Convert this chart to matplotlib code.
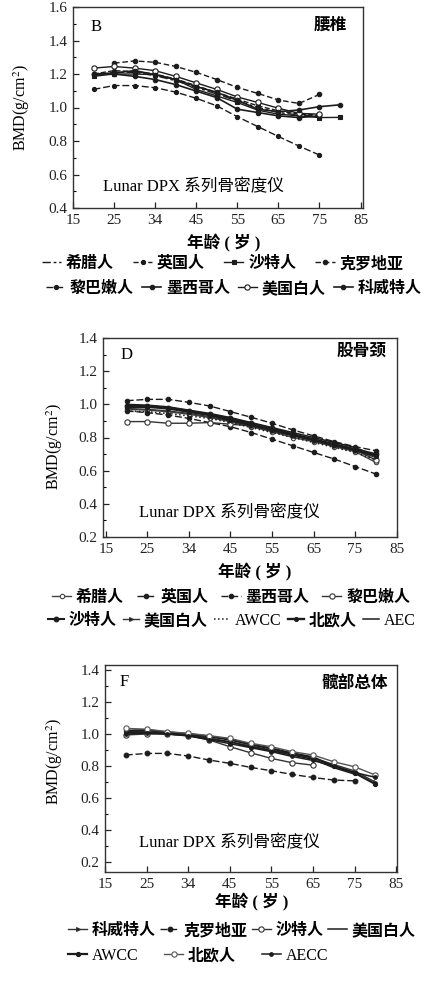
import matplotlib
matplotlib.use("Agg")
import matplotlib.pyplot as plt
from matplotlib.ticker import MultipleLocator, FixedLocator, FixedFormatter

plt.rcParams['font.family'] = ['Liberation Serif', 'Noto Sans CJK SC', 'DejaVu Sans']
plt.rcParams['mathtext.fontset'] = 'stix'

# ---------------- data ----------------
ages = [20, 25, 30, 35, 40, 45, 50, 55, 60, 65, 70, 75, 80]
xtick_pos = [15, 25, 35, 45, 55, 65, 75, 85]
xtick_labels = ['15', '25', '34', '45', '55', '65', '75', '85']

# Panel B: lumbar spine
names_B = ['希腊人', '英国人', '沙特人', '克罗地亚', '黎巴嫩人', '墨西哥人', '美国白人', '科威特人']
ages_B = {
    '希腊人': ages[:12], '英国人': ages[:12], '沙特人': ages, '克罗地亚': ages[1:12],
    '黎巴嫩人': ages[:12], '墨西哥人': ages[:12], '美国白人': ages[:12], '科威特人': ages,
}
bmd_B = {
    '希腊人':   [1.19, 1.21, 1.21, 1.19, 1.16, 1.12, 1.08, 1.04, 1.00, 0.97, 0.955, 0.95],
    '英国人':   [1.20, 1.22, 1.215, 1.20, 1.17, 1.13, 1.09, 1.05, 1.01, 0.98, 0.96, 0.955],
    '沙特人':   [1.186, 1.20, 1.20, 1.196, 1.167, 1.108, 1.069, 1.03, 0.984, 0.96, 0.95, 0.94, 0.941],
    '克罗地亚': [1.265, 1.278, 1.27, 1.245, 1.21, 1.167, 1.12, 1.084, 1.045, 1.024, 1.078],
    '黎巴嫩人': [1.108, 1.131, 1.131, 1.118, 1.092, 1.055, 1.01, 0.945, 0.886, 0.827, 0.77, 0.716],
    '墨西哥人': [1.20, 1.20, 1.186, 1.167, 1.137, 1.098, 1.059, 0.99, 0.97, 0.95, 0.94, 0.95],
    '美国白人': [1.235, 1.245, 1.235, 1.22, 1.186, 1.147, 1.108, 1.063, 1.03, 0.996, 0.965, 0.96],
    '科威特人': [1.20, 1.206, 1.22, 1.196, 1.167, 1.125, 1.09, 1.043, 0.99, 0.975, 0.985, 1.005, 1.016],
}

# Panel D: femoral neck
names_D = ['希腊人', '英国人', '墨西哥人', '黎巴嫩人', '沙特人', '美国白人', 'AWCC', '北欧人', 'AEC']
bmd_D = {
    '希腊人':   [0.97, 0.965, 0.955, 0.94, 0.92, 0.895, 0.865, 0.835, 0.80, 0.775, 0.745, 0.715, 0.65],
    '英国人':   [1.022, 1.03, 1.03, 1.012, 0.99, 0.956, 0.922, 0.886, 0.846, 0.81, 0.775, 0.745, 0.72],
    '墨西哥人': [0.96, 0.95, 0.935, 0.915, 0.89, 0.865, 0.83, 0.79, 0.75, 0.71, 0.67, 0.625, 0.58],
    '黎巴嫩人': [0.896, 0.896, 0.886, 0.886, 0.89, 0.88, 0.87, 0.846, 0.815, 0.785, 0.755, 0.725, 0.665],
    '沙特人':   [0.99, 0.99, 0.98, 0.96, 0.94, 0.915, 0.885, 0.855, 0.82, 0.79, 0.76, 0.73, 0.70],
    '美国白人': [0.975, 0.97, 0.96, 0.945, 0.925, 0.90, 0.87, 0.84, 0.81, 0.78, 0.75, 0.72, 0.68],
    'AWCC':     [0.96, 0.955, 0.945, 0.93, 0.915, 0.89, 0.86, 0.83, 0.80, 0.77, 0.74, 0.71, 0.665],
    '北欧人':   [0.985, 0.985, 0.975, 0.955, 0.935, 0.905, 0.875, 0.845, 0.815, 0.785, 0.755, 0.725, 0.69],
    'AEC':      [1.00, 0.995, 0.985, 0.965, 0.945, 0.92, 0.89, 0.86, 0.83, 0.80, 0.77, 0.74, 0.69],
}

# Panel F: total hip
names_F = ['科威特人', '克罗地亚', '沙特人', '美国白人', 'AWCC', '北欧人', 'AECC']
ages_F = {
    '科威特人': ages, '克罗地亚': ages[:12], '沙特人': ages[:10], '美国白人': ages[:12],
    'AWCC': ages, '北欧人': ages, 'AECC': ages,
}
bmd_F = {
    '科威特人': [1.015, 1.015, 1.005, 0.995, 0.975, 0.952, 0.925, 0.90, 0.875, 0.85, 0.81, 0.77, 0.70],
    '克罗地亚': [0.869, 0.879, 0.879, 0.863, 0.838, 0.817, 0.792, 0.771, 0.748, 0.729, 0.713, 0.708],
    '沙特人':   [0.994, 1.00, 1.00, 0.99, 0.963, 0.921, 0.883, 0.848, 0.821, 0.806],
    '美国白人': [1.01, 1.01, 1.00, 0.99, 0.97, 0.95, 0.92, 0.896, 0.869, 0.842, 0.79, 0.75],
    'AWCC':     [1.02, 1.025, 1.01, 1.00, 0.985, 0.965, 0.935, 0.91, 0.88, 0.855, 0.80, 0.758, 0.688],
    '北欧人':   [1.035, 1.03, 1.015, 1.004, 0.99, 0.973, 0.942, 0.921, 0.89, 0.869, 0.827, 0.796, 0.744],
    'AECC':     [1.00, 1.005, 1.00, 0.988, 0.965, 0.94, 0.915, 0.89, 0.86, 0.835, 0.80, 0.76, 0.73],
}

# ---------------- styles ----------------
C = '#1c1c1c'
def sty(ls='-', m='o', mfc=C, lw=1.0, ms=3.2, color=C):
    return dict(linestyle=ls, marker=m, mfc=mfc, lw=lw, ms=ms, color=color, mec=color, mew=0.8)

styles_B = {
    '希腊人': sty((0, (6, 2, 2, 2)), None),
    '英国人': sty('--', 'o', ms=3.0),
    '沙特人': sty('-', 's', ms=2.8),
    '克罗地亚': sty((0, (4, 2)), 'o', ms=3.2),
    '黎巴嫩人': sty((0, (5, 2)), 'o', ms=3.0),
    '墨西哥人': sty('-', 'o', ms=3.2, lw=1.2),
    '美国白人': sty('-', 'o', mfc='white', ms=3.8),
    '科威特人': sty('-', 'o', ms=3.2, lw=1.2),
}
styles_D = {
    '希腊人': sty('-', 'o', mfc='white', ms=3.2, color='#444444'),
    '英国人': sty((0, (5, 2)), 'o', ms=3.2),
    '墨西哥人': sty((0, (5, 2)), 'o', ms=3.2),
    '黎巴嫩人': sty('-', 'o', mfc='white', ms=3.8, color='#333333'),
    '沙特人': sty('-', 'o', ms=3.4, lw=1.5),
    '美国白人': sty('-', '>', ms=2.8, color='#333333'),
    'AWCC': sty(':', None, lw=1.1),
    '北欧人': sty('-', 'o', ms=2.8, lw=1.7),
    'AEC': sty('-', None, lw=1.1),
}
styles_F = {
    '科威特人': sty('-', '>', ms=2.8, color='#333333'),
    '克罗地亚': sty((0, (5, 2)), 'o', ms=3.4),
    '沙特人': sty('-', 'o', mfc='white', ms=3.8, color='#333333'),
    '美国白人': sty('-', None, lw=1.1),
    'AWCC': sty('-', 'o', ms=3.0, lw=1.6),
    '北欧人': sty('-', 'o', mfc='white', ms=3.8, color='#555555'),
    'AECC': sty('-', 'o', ms=2.6, lw=1.1),
}

W, H = 426, 981
fig = plt.figure(figsize=(W / 100, H / 100), dpi=100)

def px_axes(l, t, r, b):
    return fig.add_axes([l / W, 1 - b / H, (r - l) / W, (b - t) / H])

def style_axes(ax, xlim, ylim, ytick_vals):
    ax.set_xlim(*xlim)
    ax.set_ylim(*ylim)
    ax.xaxis.set_major_locator(FixedLocator(xtick_pos))
    ax.xaxis.set_major_formatter(FixedFormatter(xtick_labels))
    ax.yaxis.set_major_locator(FixedLocator(ytick_vals))
    ax.yaxis.set_major_formatter(FixedFormatter(['%.1f' % v for v in ytick_vals]))
    ax.yaxis.set_minor_locator(MultipleLocator(0.1))
    ax.tick_params(axis='both', which='major', direction='in', length=4, width=0.9,
                   labelsize=11, pad=4, colors='#222222')
    ax.tick_params(axis='y', which='minor', direction='in', length=2, width=0.8)
    for s in ax.spines.values():
        s.set_linewidth(1.0)
        s.set_color('#333333')

def draw(ax, names, agemap, data, styles):
    hs = {}
    for n in names:
        xs = agemap[n] if agemap else ages
        hs[n], = ax.plot(xs, data[n], label=n, **styles[n])
    return hs

def row_legend(handles, names, x, y, colsp=1.0, hl=1.2):
    lg = fig.legend([handles[n] for n in names], names, loc='center left',
                    bbox_to_anchor=(x / W, 1 - y / H), ncol=len(names), frameon=False,
                    handlelength=hl, handletextpad=0.3, columnspacing=colsp,
                    borderaxespad=0, borderpad=0,
                    prop={'family': ['Liberation Serif', 'Noto Sans CJK SC'], 'weight': 'bold', 'size': 11.5})
    for t in lg.get_texts():
        if t.get_text().isascii():
            t.set_fontweight('normal')
    return lg

txt_kw = dict(family=['Liberation Serif', 'Noto Sans CJK SC'])
inst = 'Lunar DPX 系列骨密度仪'
ylab = 'BMD(g/cm$^2$)'
xlab = '年龄 ( 岁 )'

# ---------- Panel B ----------
axB = px_axes(73, 7, 363, 208)
hB = draw(axB, names_B, ages_B, bmd_B, styles_B)
style_axes(axB, (15, 85.6), (0.4, 1.6), [0.4, 0.6, 0.8, 1.0, 1.2, 1.4, 1.6])
fig.text(96 / W, 1 - 27 / H, 'B', fontsize=12, ha='center', va='center', **txt_kw)
fig.text(330 / W, 1 - 26 / H, '腰椎', fontsize=12, weight='bold', ha='center', va='center', **txt_kw)
fig.text(193 / W, 1 - 187 / H, inst, fontsize=12, ha='center', va='center', **txt_kw)
fig.text(22 / W, 1 - 108 / H, ylab, rotation=90, fontsize=11.5, ha='center', va='center', **txt_kw)
fig.text(224 / W, 1 - 243 / H, xlab, fontsize=12, weight='bold', ha='center', va='center', **txt_kw)
row_legend(hB, names_B[:4], 42, 264, colsp=1.2)
row_legend(hB, names_B[4:], 46, 289, colsp=0.5)

# ---------- Panel D ----------
axD = px_axes(103, 338, 397, 537)
hD = draw(axD, names_D, None, bmd_D, styles_D)
style_axes(axD, (14.3, 85.1), (0.2, 1.4), [0.2, 0.4, 0.6, 0.8, 1.0, 1.2, 1.4])
fig.text(127 / W, 1 - 355 / H, 'D', fontsize=12, ha='center', va='center', **txt_kw)
fig.text(361 / W, 1 - 352 / H, '股骨颈', fontsize=12, weight='bold', ha='center', va='center', **txt_kw)
fig.text(229 / W, 1 - 513 / H, inst, fontsize=12, ha='center', va='center', **txt_kw)
fig.text(55 / W, 1 - 447 / H, ylab, rotation=90, fontsize=11.5, ha='center', va='center', **txt_kw)
fig.text(255 / W, 1 - 572 / H, xlab, fontsize=12, weight='bold', ha='center', va='center', **txt_kw)
row_legend(hD, names_D[:4], 52, 598, colsp=0.8)
row_legend(hD, names_D[4:], 48, 621, colsp=0.4, hl=1.0)

# ---------- Panel F ----------
axF = px_axes(105, 665, 397, 872)
hF = draw(axF, names_F, ages_F, bmd_F, styles_F)
style_axes(axF, (15, 85.2), (0.14, 1.43), [0.2, 0.4, 0.6, 0.8, 1.0, 1.2, 1.4])
fig.text(124 / W, 1 - 682 / H, 'F', fontsize=12, ha='center', va='center', **txt_kw)
fig.text(354 / W, 1 - 685 / H, '髋部总体', fontsize=12, weight='bold', ha='center', va='center', **txt_kw)
fig.text(229 / W, 1 - 843 / H, inst, fontsize=12, ha='center', va='center', **txt_kw)
fig.text(55 / W, 1 - 762 / H, ylab, rotation=90, fontsize=11.5, ha='center', va='center', **txt_kw)
fig.text(252 / W, 1 - 902 / H, xlab, fontsize=12, weight='bold', ha='center', va='center', **txt_kw)
row_legend(hF, names_F[:4], 68, 931, colsp=0.25)
row_legend(hF, names_F[4:], 68, 956, colsp=1.6)

fig.savefig('out.png', dpi=100)
